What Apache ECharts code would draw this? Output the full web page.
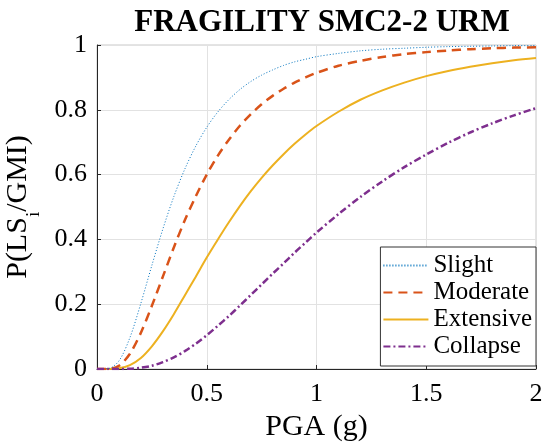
<!DOCTYPE html>
<html>
<head>
<meta charset="utf-8">
<script src="https://cdn.jsdelivr.net/npm/echarts@6/dist/echarts.min.js"></script>
<style>html,body{margin:0;padding:0;background:#fff;}#chart{width:542px;height:448px;}</style>
</head>
<body>
<div id="chart"></div>
<script>
var pga = [0,0.05,0.1,0.15,0.2,0.25,0.3,0.35,0.4,0.45,0.5,0.55,0.6,0.65,0.7,0.75,0.8,0.85,0.9,0.95,1.0,1.1,1.2,1.3,1.4,1.5,1.6,1.7,1.8,1.9,2.0];
var slight = [0,0.001,0.025,0.097,0.203,0.320,0.432,0.532,0.617,0.688,0.746,0.793,0.831,0.862,0.887,0.907,0.923,0.937,0.948,0.956,0.964,0.974,0.982,0.987,0.990,0.993,0.995,0.996,0.997,0.998,0.998];
var moderate = [0,0.0003,0.010,0.047,0.112,0.195,0.285,0.375,0.459,0.533,0.600,0.658,0.707,0.750,0.786,0.817,0.843,0.865,0.884,0.900,0.914,0.936,0.951,0.963,0.972,0.978,0.983,0.987,0.990,0.992,0.993];
var extensive = [0,0,0.002,0.012,0.034,0.070,0.116,0.169,0.227,0.285,0.344,0.399,0.452,0.502,0.548,0.590,0.628,0.663,0.695,0.724,0.750,0.794,0.831,0.860,0.884,0.904,0.920,0.933,0.944,0.953,0.960];
var collapse = [0,0,0.0001,0.001,0.004,0.010,0.021,0.036,0.055,0.078,0.104,0.133,0.163,0.195,0.228,0.261,0.294,0.326,0.359,0.390,0.421,0.478,0.531,0.579,0.623,0.662,0.698,0.730,0.758,0.783,0.805];
var names = ['Slight','Moderate','Extensive','Collapse'];
var xTicks = [0,0.5,1,1.5,2];
var yTicks = [0,0.2,0.4,0.6,0.8,1];

function pairs(ys){ return pga.map(function(x,i){ return [x, ys[i]]; }); }
var font = 'Liberation Serif';
var chart = echarts.init(document.getElementById('chart'), null, {renderer:'canvas'});
chart.setOption({
  animation:false,
  backgroundColor:'#fff',
  title:{text:'FRAGILITY SMC2-2 URM', left:317, textAlign:'center', top:2,
    textStyle:{fontFamily:font, fontWeight:'bold', fontSize:31, color:'#000'}},
  grid:{left:97, right:6, top:45, bottom:79, show:true, borderColor:'#c8c8c8', borderWidth:1, backgroundColor:'#fff',
    containLabel:false, outerBoundsMode:'none'},
  legend:{orient:'vertical', right:6, bottom:82, itemWidth:45, itemHeight:10, itemGap:2,
    padding:[6,4,7,2], backgroundColor:'#fff', borderColor:'#333', borderWidth:1, borderRadius:0,
    itemStyle:{opacity:0},
    data:names, textStyle:{fontFamily:font, fontSize:25, lineHeight:25, color:'#000'}},
  xAxis:{type:'value', min:0, max:2, interval:0.5,
    name:'PGA (g)', nameLocation:'middle', nameGap:43,
    nameTextStyle:{fontFamily:font, fontSize:30, color:'#000'},
    axisLine:{show:true, onZero:false, lineStyle:{color:'#262626', width:1}},
    axisTick:{show:true, inside:true, length:4, lineStyle:{color:'#262626'}},
    axisLabel:{fontFamily:font, fontSize:26, color:'#000', margin:12},
    splitLine:{show:true, lineStyle:{color:'#e2e2e2', width:1}}},
  yAxis:{type:'value', min:0, max:1, interval:0.2,
    name:'P(LS{sub|i}/GMI)', nameLocation:'middle', nameGap:58, nameRotate:90,
    nameTextStyle:{fontFamily:font, fontSize:30, color:'#000',
      rich:{sub:{fontFamily:font, fontSize:19, color:'#000', verticalAlign:'bottom', padding:[0,0,-10,0]}}},
    axisLine:{show:true, onZero:false, lineStyle:{color:'#262626', width:1}},
    axisTick:{show:true, inside:true, length:4, lineStyle:{color:'#262626'}},
    axisLabel:{fontFamily:font, fontSize:26, color:'#000', margin:10},
    splitLine:{show:true, lineStyle:{color:'#e2e2e2', width:1}}},
  series:[
    {name:'Slight', type:'line', data:pairs(slight), smooth:0.3, symbol:'none', z:4,
      lineStyle:{color:'#0072BD', width:1, type:[1,2]}, itemStyle:{color:'#0072BD'}},
    {name:'Moderate', type:'line', data:pairs(moderate), smooth:0.3, symbol:'none', z:3,
      lineStyle:{color:'#D95319', width:2.5, type:[9,6]}, itemStyle:{color:'#D95319'}},
    {name:'Extensive', type:'line', data:pairs(extensive), smooth:0.3, symbol:'none', z:2,
      lineStyle:{color:'#EDB120', width:2, type:'solid'}, itemStyle:{color:'#EDB120'}},
    {name:'Collapse', type:'line', data:pairs(collapse), smooth:0.3, symbol:'none', z:5,
      lineStyle:{color:'#7E2F8E', width:2.5, type:[7,3,2,3]}, itemStyle:{color:'#7E2F8E'}}
  ]
});
</script>
</body>
</html>
